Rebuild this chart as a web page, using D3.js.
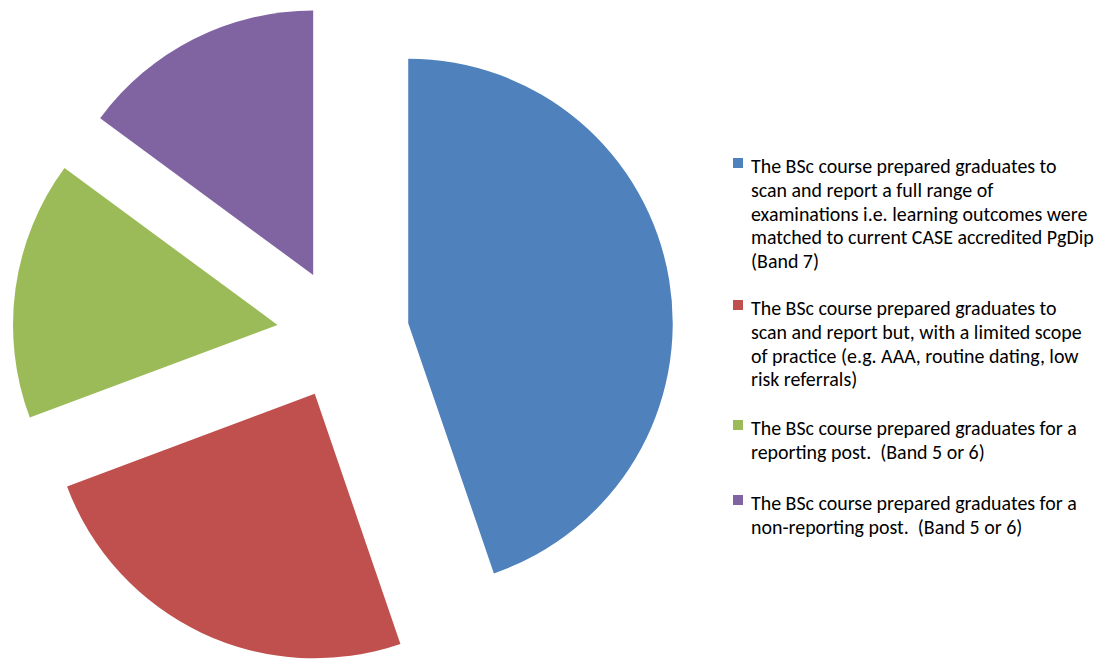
<!DOCTYPE html>
<html>
<head>
<meta charset="utf-8">
<script src="https://cdn.jsdelivr.net/npm/d3@7"></script>
<style>
  html, body { margin: 0; padding: 0; background: #fff; }
  svg { display: block; }
  text.lg { white-space: pre; }
</style>
</head>
<body>
<svg id="chart" width="1100" height="659"></svg>
<script>
// Share of respondents per statement (percent)
const values = [44.75, 24.55, 15.8, 14.9];
const colors = ["#4F81BD", "#C0504D", "#9BBB59", "#8064A2"];
const legendLines = [
  ["The BSc course prepared graduates to",
   "scan and report a full range of",
   "examinations i.e. learning outcomes were",
   "matched to current CASE accredited PgDip",
   "(Band 7)"],
  ["The BSc course prepared graduates to",
   "scan and report but, with a limited scope",
   "of practice (e.g. AAA, routine dating, low",
   "risk referrals)"],
  ["The BSc course prepared graduates for a",
   "reporting post.  (Band 5 or 6)"],
  ["The BSc course prepared graduates for a",
   "non-reporting post.  (Band 5 or 6)"]
];
const legendTop = [166, 308, 428, 503];

const svg = d3.select("#chart");
const cx = 343, cy = 334, radius = 264.5;
const explode = radius * 0.25;

const pie = d3.pie().sort(null).value(d => d)(values);
const arc = d3.arc().innerRadius(0).outerRadius(radius);

const g = svg.append("g").attr("transform", `translate(${cx},${cy})`);
g.selectAll("path")
  .data(pie)
  .join("path")
  .attr("d", arc)
  .attr("fill", (d, i) => colors[i])
  .attr("transform", d => {
    const mid = (d.startAngle + d.endAngle) / 2;
    return `translate(${Math.sin(mid) * explode},${-Math.cos(mid) * explode})`;
  });

// Legend
const fontFamily = "Carlito, Calibri, Lato, 'Open Sans', sans-serif";
const legend = svg.append("g");
const textX = 751, lineH = 23.8;
let fontSize = 16.5;

legendLines.forEach((lines, i) => {
  const y0 = legendTop[i];
  legend.append("rect")
    .attr("x", 733).attr("y", y0 - 8)
    .attr("width", 10).attr("height", 10)
    .attr("fill", colors[i]);
  const t = legend.append("text")
    .attr("class", "lg")
    .attr("xml:space", "preserve")
    .attr("font-family", fontFamily)
    .attr("font-size", fontSize)
    .attr("fill", "#000");
  lines.forEach((s, j) => {
    t.append("tspan")
      .attr("x", textX)
      .attr("y", y0 + j * lineH)
      .attr("dy", "0.35em")
      .text(s);
  });
});

// Fit the widest legend line to the available width
let maxW = 0;
legend.selectAll("tspan").each(function () {
  maxW = Math.max(maxW, this.getComputedTextLength());
});
const target = 343;
if (maxW > 0) {
  fontSize = fontSize * target / maxW;
  legend.selectAll("text.lg").attr("font-size", fontSize);
}
</script>
</body>
</html>
